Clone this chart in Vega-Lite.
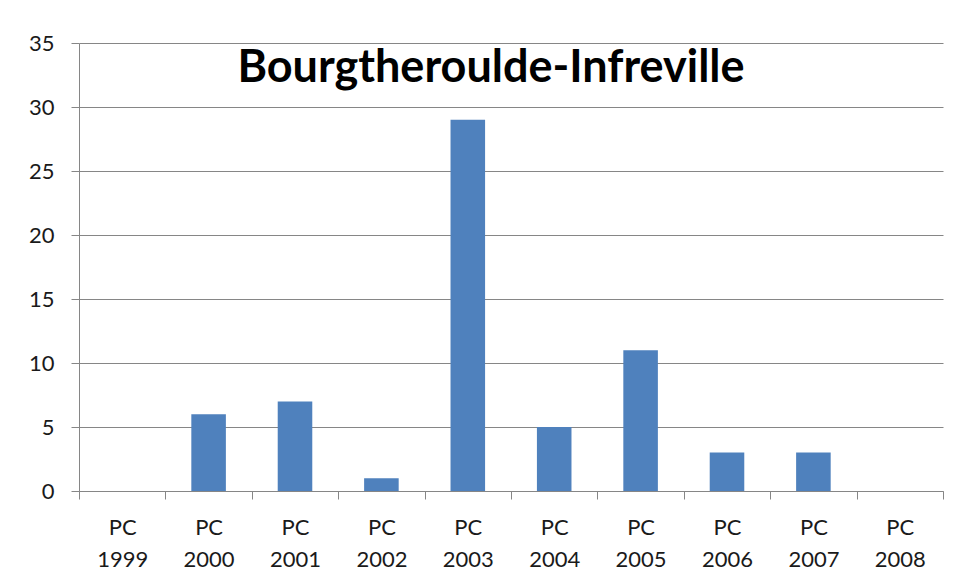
{
  "$schema": "https://vega.github.io/schema/vega-lite/v6.json",
  "autosize": {"type": "none"},
  "padding": {"left": 79, "top": 43, "right": 15, "bottom": 91},
  "width": 864,
  "height": 448,
  "background": "white",
  "title": {
    "text": "Bourgtheroulde-Infreville",
    "font": "Lato",
    "fontSize": 45,
    "fontWeight": "bold",
    "color": "#000000",
    "anchor": "middle",
    "baseline": "alphabetic",
    "offset": -39,
    "dy": 56,
    "dx": -20
  },
  "data": {
    "values": [
      {"cat": "PC 1999", "value": 0},
      {"cat": "PC 2000", "value": 6},
      {"cat": "PC 2001", "value": 7},
      {"cat": "PC 2002", "value": 1},
      {"cat": "PC 2003", "value": 29},
      {"cat": "PC 2004", "value": 5},
      {"cat": "PC 2005", "value": 11},
      {"cat": "PC 2006", "value": 3},
      {"cat": "PC 2007", "value": 3},
      {"cat": "PC 2008", "value": 0}
    ]
  },
  "mark": {"type": "bar", "color": "#4F81BD", "width": {"band": 0.4}},
  "encoding": {
    "x": {
      "field": "cat",
      "type": "nominal",
      "sort": null,
      "scale": {"paddingInner": 0, "paddingOuter": 0},
      "axis": {
        "title": null,
        "labelAngle": 0,
        "labelExpr": "split(datum.label, ' ')",
        "labelFont": "Lato",
        "labelFontSize": 22,
        "labelColor": "#1a1a1a",
        "labelLineHeight": 32,
        "labelPadding": 18,
        "tickBand": "extent",
        "tickSize": 8,
        "tickColor": "#868686",
        "domainColor": "#868686",
        "grid": false
      }
    },
    "y": {
      "field": "value",
      "type": "quantitative",
      "scale": {"domain": [0, 35], "nice": false},
      "axis": {
        "title": null,
        "values": [0, 5, 10, 15, 20, 25, 30, 35],
        "labelFont": "Lato",
        "labelFontSize": 22,
        "labelColor": "#1a1a1a",
        "labelPadding": 17,
        "tickSize": 8,
        "tickColor": "#868686",
        "domainColor": "#868686",
        "grid": true,
        "gridColor": "#868686",
        "gridOpacity": 1
      }
    }
  },
  "config": {
    "view": {"stroke": null},
    "axis": {"domainWidth": 1, "tickWidth": 1, "gridWidth": 1}
  }
}
